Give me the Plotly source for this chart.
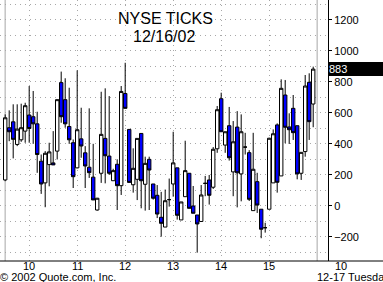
import plotly.graph_objects as go

# 5-minute bars, NYSE TICK, 12/16/02
times = ["09:30","09:35","09:40","09:45","09:50","09:55",
         "10:00","10:05","10:10","10:15","10:20","10:25","10:30","10:35","10:40","10:45","10:50","10:55",
         "11:00","11:05","11:10","11:15","11:20","11:25","11:30","11:35","11:40","11:45","11:50","11:55",
         "12:00","12:05","12:10","12:15","12:20","12:25","12:30","12:35","12:40","12:45","12:50","12:55",
         "13:00","13:05","13:10","13:15","13:20","13:25","13:30","13:35","13:40","13:45","13:50","13:55",
         "14:00","14:05","14:10","14:15","14:20","14:25","14:30","14:35","14:40","14:45","14:50","14:55",
         "15:00","15:05","15:10","15:15","15:20","15:25","15:30","15:35","15:40","15:45","15:50","15:55"]

opens = [168, 505, 543, 397, 427, 483, 587, 576, 530, 289, 149, 267, 278,
         354, 796, 686, 513, 408, 246, 433, 343, 250, 186, -26, 211, 436,
         322, 163, 269, 131, 726, 494, 137, 172, 468, 140, 301, 142, 69,
         -73, -136, 41, 142, 246, -90, 60, 211, 0, -58, -100, 146, 168,
         121, 369, 692, 393, 518, 220, 509, 207, 380, 344, -30, 157, -21,
         -140, -21, 149, 523, 194, 716, 510, 630, 518, 211, 351, 798, 658]
highs = [591, 617, 656, 656, 660, 666, 774, 742, 608, 332, 354, 408, 483,
         686, 867, 824, 763, 429, 875, 634, 386, 630, 401, 52, 737, 759,
         709, 240, 301, 774, 924, 494, 372, 436, 468, 318, 318, 142, 135,
         91, 106, 177, 479, 246, 26, 421, 211, 129, -58, 135, 194, 200,
         380, 645, 731, 479, 639, 548, 612, 591, 472, 360, 472, 214, -21,
         -108, 440, 494, 533, 817, 813, 598, 716, 518, 346, 845, 856, 899]
lows = [160, 418, 307, 386, 414, 408, 408, 401, 214, 78, -8, 127, 265,
        300, 537, 505, 401, 116, 243, 311, 116, 181, 39, -30, 149, 146,
        200, 163, -26, 71, 630, 152, 86, 38, -15, -30, -26, 41, -78,
        -198, -136, -4, 60, -88, -90, 60, -15, -47, -301, -101, 63, 9,
        110, 343, 479, 343, 293, 63, -9, 30, 332, 32, -30, -45, -208,
        -172, -21, 149, 86, 194, 405, 400, 426, 172, 168, 318, 426, 508]
closes = [569, 479, 430, 496, 505, 647, 500, 530, 332, 142, 340, 349, 265,
          686, 576, 530, 427, 189, 492, 387, 258, 215, 39, 50, 462, 324,
          211, 228, 131, 739, 630, 152, 243, 436, 163, 275, 232, 50, -52,
          -112, 34, 41, 278, -60, 26, 228, -15, -47, -116, 71, 146, 69,
          366, 621, 479, 479, 311, 414, 214, 479, 380, 43, 237, 6, -150,
          -140, 437, 466, 153, 759, 508, 492, 473, 207, 346, 774, 544, 883]

hour_ticks = ["10:00", "11:00", "12:00", "13:00", "14:00", "15:00"]
hour_labels = ["10", "11", "12", "13", "14", "15"]
y_ticks = [-200, 0, 200, 400, 600, 800, 1000, 1200]
last_value = 883

DAY = "2002-12-16 "
x = [DAY + t for t in times]

FONT = "Liberation Sans, Arial, sans-serif"
W, H = 383, 282
L, R, T, B = 0, 55, 0, 21
PW, PH = W - L - R, H - T - B

fig = go.Figure()
fig.add_trace(go.Candlestick(
    x=x, open=opens, high=highs, low=lows, close=closes,
    increasing=dict(fillcolor="white", line=dict(color="black", width=1)),
    decreasing=dict(fillcolor="#0000ff", line=dict(color="black", width=1)),
    whiskerwidth=0, hoverinfo="skip", showlegend=False,
))

grid_col = "#a8a8a8"
fig.update_layout(
    width=W, height=H,
    margin=dict(l=L, r=R, t=T, b=B, pad=0),
    paper_bgcolor="white", plot_bgcolor="white",
    showlegend=False,
    boxgap=0.15, boxgroupgap=0,
    font=dict(family=FONT, size=11, color="black"),
    xaxis=dict(
        type="date",
        range=[DAY + "09:23:30", DAY + "16:13:30"],
        tickmode="array",
        tickvals=[DAY + t for t in hour_ticks],
        ticktext=hour_labels,
        showticklabels=False,
        showgrid=True, gridcolor=grid_col, gridwidth=1, griddash="1px,4px",
        ticks="", showline=False, zeroline=False,
        rangeslider=dict(visible=False),
        fixedrange=True,
    ),
    yaxis=dict(
        side="right",
        range=[-355, 1329],
        tickmode="array", tickvals=y_ticks,
        showgrid=True, gridcolor=grid_col, gridwidth=1, griddash="1px,4px",
        minor=dict(dtick=100, tick0=0, showgrid=True, gridcolor=grid_col,
                   gridwidth=1, griddash="1px,4px", ticks=""),
        showline=True, linecolor="black", linewidth=1,
        ticks="outside", ticklen=3, tickcolor="black", tickwidth=1,
        zeroline=False,
        tickfont=dict(family=FONT, size=11, color="black"),
        fixedrange=True,
    ),
)

# session start / end lines
for t in ["09:30", "16:00"]:
    fig.add_shape(type="line", xref="x", yref="paper", x0=DAY + t, x1=DAY + t,
                  y0=0, y1=1, line=dict(color="#c4c4c4", width=1.5), layer="below")
# bottom axis line spanning the full width
fig.add_shape(type="line", xref="paper", yref="paper", x0=0, x1=W / PW,
              y0=0, y1=0, line=dict(color="black", width=1))

def px_x(p):
    return (p - L) / PW

def px_y(p):
    return 1 - (p - T) / PH

# hour labels placed on the x axis scale
for tv, tl in zip(hour_ticks, hour_labels):
    fig.add_annotation(text=tl, xref="x", yref="paper", x=DAY + tv, y=px_y(266),
                       showarrow=False, xanchor="center", yanchor="middle",
                       borderpad=0, borderwidth=0,
                       font=dict(family=FONT, size=11, color="black"))

fig.add_annotation(text="NYSE TICKS", xref="paper", yref="paper",
                   x=px_x(165.5), y=px_y(18), showarrow=False,
                   xanchor="center", yanchor="middle",
                   font=dict(family=FONT, size=16, color="black"))
fig.add_annotation(text="12/16/02", xref="paper", yref="paper",
                   x=px_x(163.5), y=px_y(36.5), showarrow=False,
                   xanchor="center", yanchor="middle",
                   font=dict(family=FONT, size=16, color="black"))
fig.add_annotation(text=str(last_value), xref="paper", yref="y",
                   x=1, y=last_value, showarrow=False,
                   xanchor="left", yanchor="middle", align="left",
                   width=53, height=12, borderpad=1, borderwidth=0,
                   bgcolor="black", font=dict(family=FONT, size=11, color="white"))
fig.add_annotation(text="10", xref="paper", yref="paper",
                   x=px_x(341), y=px_y(266), showarrow=False,
                   xanchor="center", yanchor="middle",
                   borderpad=0, borderwidth=0,
                   font=dict(family=FONT, size=11, color="black"))
fig.add_annotation(text="12-17 Tuesday", xref="paper", yref="paper",
                   x=px_x(317), y=px_y(276.5), showarrow=False,
                   xanchor="left", yanchor="middle",
                   borderpad=0, borderwidth=0,
                   font=dict(family=FONT, size=11, color="black"))
fig.add_annotation(text="© 2002 Quote.com, Inc.", xref="paper", yref="paper",
                   x=px_x(0), y=px_y(276.5), showarrow=False,
                   xanchor="left", yanchor="middle",
                   borderpad=0, borderwidth=0,
                   font=dict(family=FONT, size=11, color="black"))

fig.write_html("out.html", config=dict(displayModeBar=False, staticPlot=True))
